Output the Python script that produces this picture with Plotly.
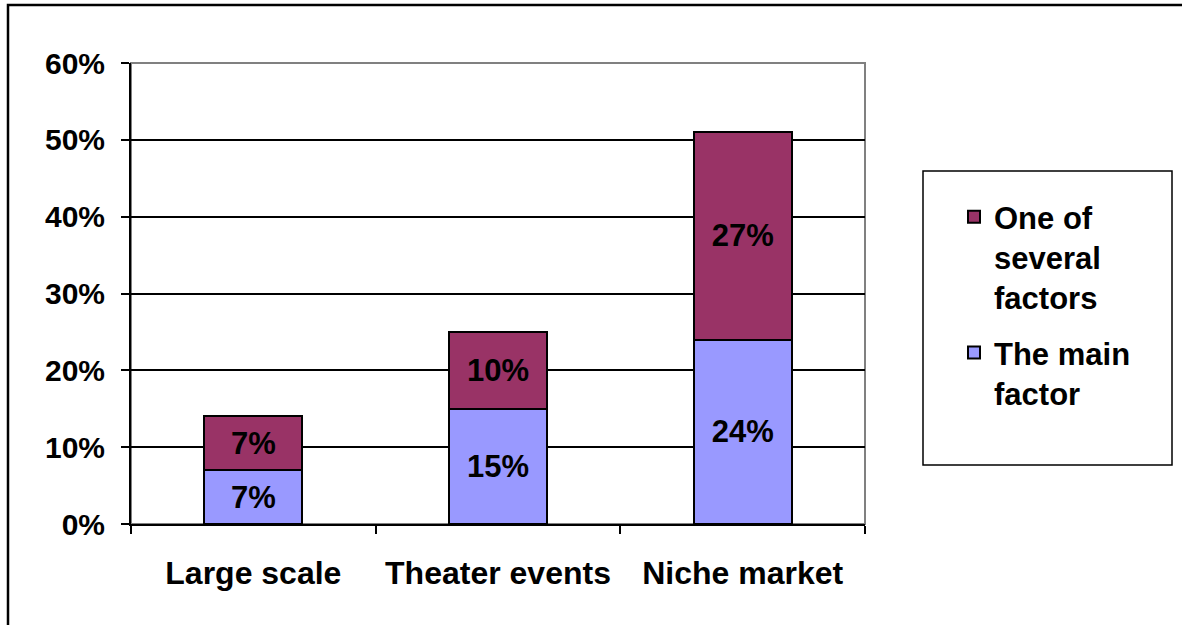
import plotly.graph_objects as go

categories = ["Large scale", "Theater events", "Niche market"]
main_factor = [0.07, 0.15, 0.24]
several_factors = [0.07, 0.10, 0.27]
series_names = ["The main<br>factor", "One of<br>several<br>factors"]
y_ticks = [0, 0.1, 0.2, 0.3, 0.4, 0.5, 0.6]

FONT = "Arial, Liberation Sans, sans-serif"
W, H = 1182, 625
L, R, T, B = 131, 1182 - 865, 63, 625 - 524
pw, ph = W - L - R, H - T - B

def px_x(x):
    return (x - L) / pw

def px_y(y):
    return (H - B - y) / ph

fig = go.Figure()
fig.add_trace(go.Bar(
    x=categories, y=main_factor, name=series_names[0],
    marker=dict(color="#9999FF", line=dict(color="black", width=2)),
    texttemplate="%{y:.0%}", textposition="inside", insidetextanchor="middle",
    textfont=dict(family=FONT, size=31, color="black", weight="bold"),
    legendgroup="a", legendrank=2,
))
fig.add_trace(go.Bar(
    x=categories, y=several_factors, name=series_names[1],
    marker=dict(color="#993366", line=dict(color="black", width=2)),
    texttemplate="%{y:.0%}", textposition="inside", insidetextanchor="middle",
    textfont=dict(family=FONT, size=31, color="black", weight="bold"),
    legendgroup="b", legendrank=1,
))

shapes = [
    dict(type="rect", xref="paper", yref="paper", x0=0, x1=1, y0=0, y1=1,
         line=dict(color="#808080", width=2), layer="below"),
    dict(type="rect", xref="paper", yref="paper",
         x0=px_x(923), x1=px_x(1172), y0=px_y(465), y1=px_y(171),
         line=dict(color="black", width=1.5), fillcolor="white", layer="below"),
    dict(type="rect", xref="paper", yref="paper",
         x0=px_x(8), x1=px_x(1200), y0=px_y(650), y1=px_y(5),
         line=dict(color="black", width=2.5), layer="below"),
]

fig.update_layout(
    width=W, height=H,
    margin=dict(l=L, r=R, t=T, b=B, autoexpand=False),
    barmode="stack", bargap=0.6,
    plot_bgcolor="white", paper_bgcolor="white",
    font=dict(family=FONT, size=31, color="black"),
    showlegend=True,
    legend=dict(
        x=px_x(954), y=px_y(190), xanchor="left", yanchor="top",
        traceorder="grouped", tracegroupgap=12, valign="top",
        font=dict(family=FONT, size=31, color="black", weight="bold"),
        bgcolor="rgba(0,0,0,0)", borderwidth=0,
        itemclick=False,
    ),
    shapes=shapes,
)
fig.update_yaxes(
    range=[0, 0.6], tickvals=y_ticks, tickformat=".0%",
    showgrid=True, gridcolor="black", gridwidth=2,
    showline=True, linecolor="black", linewidth=2,
    ticks="outside", ticklen=8, tickwidth=2, tickcolor="black",
    ticklabelstandoff=10, automargin=False,
    tickfont=dict(family=FONT, size=30, color="black", weight="bold"),
    zeroline=False,
)
fig.update_xaxes(
    showline=True, linecolor="black", linewidth=2,
    ticks="outside", tickson="boundaries", ticklen=8, tickwidth=2, tickcolor="black",
    ticklabelstandoff=20, tickangle=0, automargin=False,
    tickfont=dict(family=FONT, size=32, color="black", weight="bold"),
    showgrid=False,
)

fig.write_html("out.html")
